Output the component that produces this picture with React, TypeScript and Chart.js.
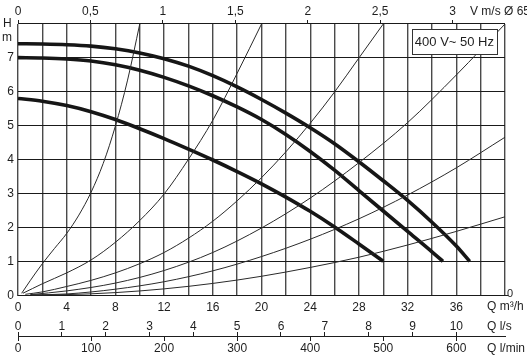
import React, { useEffect, useRef } from "react";
import { Chart, registerables } from "chart.js";

Chart.register(...registerables);

// ---- axis ticks / labels ----
const Q_GRID = [0, 2, 4, 6, 8, 10, 12, 14, 16, 18, 20, 22, 24, 26, 28, 30, 32, 34, 36, 38, 40];
const Q_LABELS = [0, 4, 8, 12, 16, 20, 24, 28, 32, 36];
const H_GRID = [0, 1, 2, 3, 4, 5, 6, 7, 8];
const H_LABELS = [0, 1, 2, 3, 4, 5, 6, 7];
const VEL_TICKS = [0, 0.5, 1, 1.5, 2, 2.5, 3];
const VEL_LABELS = ["0", "0,5", "1", "1,5", "2", "2,5", "3"];
const LPS_TICKS = [0, 1, 2, 3, 4, 5, 6, 7, 8, 9, 10];
const LPM_TICKS = [0, 100, 200, 300, 400, 500, 600];

// unit conversions (m3/h per unit)
const Q_PER_VEL = 11.9; // DN65: 1 m/s
const Q_PER_LPS = 3.6;
const Q_PER_LPM = 0.06;

// ---- pump curves (Q m3/h, H m) ----
const PUMP1_Q = [0, 2, 4, 6, 8, 10, 12, 14, 16, 18, 20, 22, 24, 26, 28, 30, 32, 34, 36, 37.1];
const PUMP1_H = [7.42, 7.41, 7.39, 7.35, 7.27, 7.15, 6.98, 6.76, 6.48, 6.15, 5.78, 5.38, 4.95, 4.48, 3.95, 3.39, 2.81, 2.17, 1.47, 1.02];
const PUMP2_Q = [0, 2, 4, 6, 8, 10, 12, 14, 16, 18, 20, 22, 24, 26, 28, 30, 32, 34, 34.9];
const PUMP2_H = [7.01, 7.0, 6.97, 6.91, 6.8, 6.64, 6.43, 6.18, 5.89, 5.56, 5.19, 4.75, 4.25, 3.7, 3.1, 2.5, 1.9, 1.3, 1.02];
const PUMP3_Q = [0, 2, 4, 6, 8, 10, 12, 14, 16, 18, 20, 22, 24, 26, 28, 30];
const PUMP3_H = [5.81, 5.73, 5.6, 5.42, 5.19, 4.92, 4.63, 4.32, 4.0, 3.66, 3.3, 2.91, 2.49, 2.03, 1.53, 1.02];

// ---- system curves (thin) ----
const SYS_A_Q = [0.3, 1, 2, 3, 4, 5, 6, 7, 8, 9, 10];
const SYS_A_H = [0.08, 0.45, 0.95, 1.4, 1.84, 2.38, 3.05, 3.9, 5.0, 6.35, 8.0];
const SYS_B_Q = [0.4, 2, 4, 6, 8, 10, 12, 14, 16, 18, 20];
const SYS_B_H = [0.08, 0.36, 0.68, 1.06, 1.58, 2.22, 3.0, 4.02, 5.17, 6.55, 8.0];
const SYS_C_Q = [0.6, 2, 4, 6, 8, 10, 12, 14, 16, 18, 20, 22, 24, 26, 28, 30];
const SYS_C_H = [0.05, 0.12, 0.28, 0.46, 0.68, 0.95, 1.28, 1.7, 2.2, 2.8, 3.48, 4.24, 5.08, 6.0, 7.0, 8.0];
const SYS_D_Q = [1, 4, 8, 12, 16, 20, 24, 28, 32, 36, 40];
const SYS_D_H = [0.04, 0.15, 0.38, 0.75, 1.28, 2.0, 2.88, 3.92, 5.1, 6.5, 8.0];
const SYS_E_Q = [1.1, 4, 8, 12, 16, 20, 24, 28, 32, 36, 40];
const SYS_E_H = [0.03, 0.06, 0.2, 0.42, 0.74, 1.16, 1.67, 2.27, 2.97, 3.77, 4.67];
const SYS_F_Q = [1.1, 4, 8, 12, 16, 20, 24, 28, 32, 36, 40];
const SYS_F_H = [0.03, 0.04, 0.1, 0.21, 0.37, 0.58, 0.84, 1.14, 1.5, 1.9, 2.33];

const LEGEND_TEXT = "400 V~ 50 Hz";
const TOP_UNIT = "V m/s Ø 65";
const Q_UNIT = "Q m³/h";
const LPS_UNIT = "Q l/s";
const LPM_UNIT = "Q l/min";

const FONT = '"Liberation Sans", Arial, Helvetica, sans-serif';
const INK = "#1e1e1e";

const toPts = (qs: number[], hs: number[]) => qs.map((q, i) => ({ x: q, y: hs[i] }));

const thick = (qs: number[], hs: number[]) => ({
  data: toPts(qs, hs),
  borderColor: "#161616",
  borderWidth: 3.6,
  pointRadius: 0,
  cubicInterpolationMode: "monotone" as const,
  borderCapStyle: "butt" as const,
  xAxisID: "x",
  yAxisID: "y",
});
const thin = (qs: number[], hs: number[]) => ({
  data: toPts(qs, hs),
  borderColor: "#2a2a2a",
  borderWidth: 1,
  pointRadius: 0,
  cubicInterpolationMode: "monotone" as const,
  xAxisID: "x",
  yAxisID: "y",
});

const textPlugin = {
  id: "pumpTexts",
  afterDatasetsDraw(chart: any) {
    const { ctx, chartArea } = chart;
    const { left, right, top, bottom } = chartArea;
    ctx.save();
    // legend box
    ctx.font = `13px ${FONT}`;
    const w = ctx.measureText(LEGEND_TEXT).width + 6;
    const bx = right - 8 - w;
    const by = top + 5;
    ctx.fillStyle = "#ffffff";
    ctx.fillRect(bx, by, w, 25);
    ctx.strokeStyle = "#333";
    ctx.lineWidth = 1;
    ctx.strokeRect(Math.round(bx) + 0.5, Math.round(by) + 0.5, Math.round(w), 25);
    ctx.fillStyle = INK;
    ctx.textBaseline = "middle";
    ctx.textAlign = "left";
    ctx.fillText(LEGEND_TEXT, bx + 3, by + 13);

    // unit texts
    ctx.font = `12px ${FONT}`;
    ctx.fillText(TOP_UNIT, right - 35, 12);
    ctx.fillText(Q_UNIT, right - 18, bottom + 11);
    ctx.fillText(LPS_UNIT, right - 18, bottom + 31);
    ctx.fillText(LPM_UNIT, right - 18, bottom + 53);
    // H / m
    ctx.fillText("H", left - 15, top);
    ctx.fillText("m", left - 16, top + 14);
    // small right zero
    ctx.font = `11px ${FONT}`;
    ctx.fillText("0", right + 2, bottom - 2);
    ctx.beginPath();
    ctx.moveTo(right, bottom - 0.5);
    ctx.lineTo(right + 3, bottom - 0.5);
    ctx.strokeStyle = INK;
    ctx.stroke();
    ctx.restore();
  },
};

export default function App() {
  const ref = useRef<HTMLCanvasElement | null>(null);

  useEffect(() => {
    if (!ref.current) return;
    Chart.defaults.font.family = FONT;
    Chart.defaults.font.size = 12;
    Chart.defaults.color = INK;

    const tickFont = { family: FONT, size: 12 };

    const chart = new Chart(ref.current, {
      type: "line",
      data: {
        datasets: [
          thin(SYS_A_Q, SYS_A_H),
          thin(SYS_B_Q, SYS_B_H),
          thin(SYS_C_Q, SYS_C_H),
          thin(SYS_D_Q, SYS_D_H),
          thin(SYS_E_Q, SYS_E_H),
          thin(SYS_F_Q, SYS_F_H),
          thick(PUMP1_Q, PUMP1_H),
          thick(PUMP2_Q, PUMP2_H),
          thick(PUMP3_Q, PUMP3_H),
        ] as any,
      },
      options: {
        animation: false,
        responsive: false,
        devicePixelRatio: 1,
        layout: { padding: { left: 0, top: 0, right: 22, bottom: 0 } },
        plugins: { legend: { display: false }, tooltip: { enabled: false } },
        events: [],
        scales: {
          x: {
            type: "linear",
            position: "bottom",
            min: 0,
            max: 40,
            afterBuildTicks: (s: any) => {
              s.ticks = Q_GRID.map((v) => ({ value: v }));
            },
            afterFit: (s: any) => {
              s.height = 64;
            },
            grid: { color: "#4a4a4a", lineWidth: 1.4, drawTicks: false },
            border: { display: false },
            ticks: {
              autoSkip: false,
              maxRotation: 0,
              padding: 4,
              font: tickFont,
              color: INK,
              callback: (v: any) => (Q_LABELS.includes(Number(v)) ? String(v) : ""),
            },
          },
          y: {
            type: "linear",
            position: "left",
            min: 0,
            max: 8,
            afterBuildTicks: (s: any) => {
              s.ticks = H_GRID.map((v) => ({ value: v }));
            },
            afterFit: (s: any) => {
              s.width = 18;
            },
            grid: { color: "#1a1a1a", lineWidth: 1.1, drawTicks: false },
            border: { display: false },
            ticks: {
              padding: 4,
              font: tickFont,
              color: INK,
              callback: (v: any) => (H_LABELS.includes(Number(v)) ? String(v) : ""),
            },
          },
          xTop: {
            type: "linear",
            position: "top",
            min: 0,
            max: 40 / Q_PER_VEL,
            afterBuildTicks: (s: any) => {
              s.ticks = VEL_TICKS.map((v) => ({ value: v }));
            },
            afterFit: (s: any) => {
              s.height = 24;
            },
            grid: { drawOnChartArea: false, drawTicks: true, tickLength: 4, color: INK, lineWidth: 1 },
            border: { display: false },
            ticks: {
              autoSkip: false,
              maxRotation: 0,
              padding: 1,
              font: tickFont,
              color: INK,
              callback: (v: any) => VEL_LABELS[VEL_TICKS.indexOf(Number(v))] ?? "",
            },
          },
          xLps: {
            type: "linear",
            position: { y: -1.2 } as any,
            min: 0,
            max: 40 / Q_PER_LPS,
            afterBuildTicks: (s: any) => {
              s.ticks = LPS_TICKS.map((v) => ({ value: v }));
            },
            grid: { drawOnChartArea: false, drawTicks: true, tickLength: -5, color: INK, lineWidth: 1 },
            border: { display: false },
            ticks: {
              autoSkip: false,
              maxRotation: 0,
              padding: -12,
              font: tickFont,
              color: INK,
              callback: (v: any) => String(v),
            },
          },
          xLpm: {
            type: "linear",
            position: { y: -1.2 } as any,
            min: 0,
            max: 40 / Q_PER_LPM,
            afterBuildTicks: (s: any) => {
              s.ticks = LPM_TICKS.map((v) => ({ value: v }));
            },
            grid: { drawOnChartArea: false, drawTicks: true, tickLength: 4, color: INK, lineWidth: 1 },
            border: { display: true, color: INK, width: 1 },
            ticks: {
              autoSkip: false,
              maxRotation: 0,
              padding: 1,
              font: tickFont,
              color: INK,
              callback: (v: any) => String(v),
            },
          },
        } as any,
      },
      plugins: [textPlugin],
    });
    return () => chart.destroy();
  }, []);

  return (
    <div style={{ position: "absolute", left: 0, top: 0, width: 527, height: 360, background: "#fff" }}>
      <canvas ref={ref} width={527} height={360} style={{ display: "block", width: 527, height: 360 }} />
    </div>
  );
}
